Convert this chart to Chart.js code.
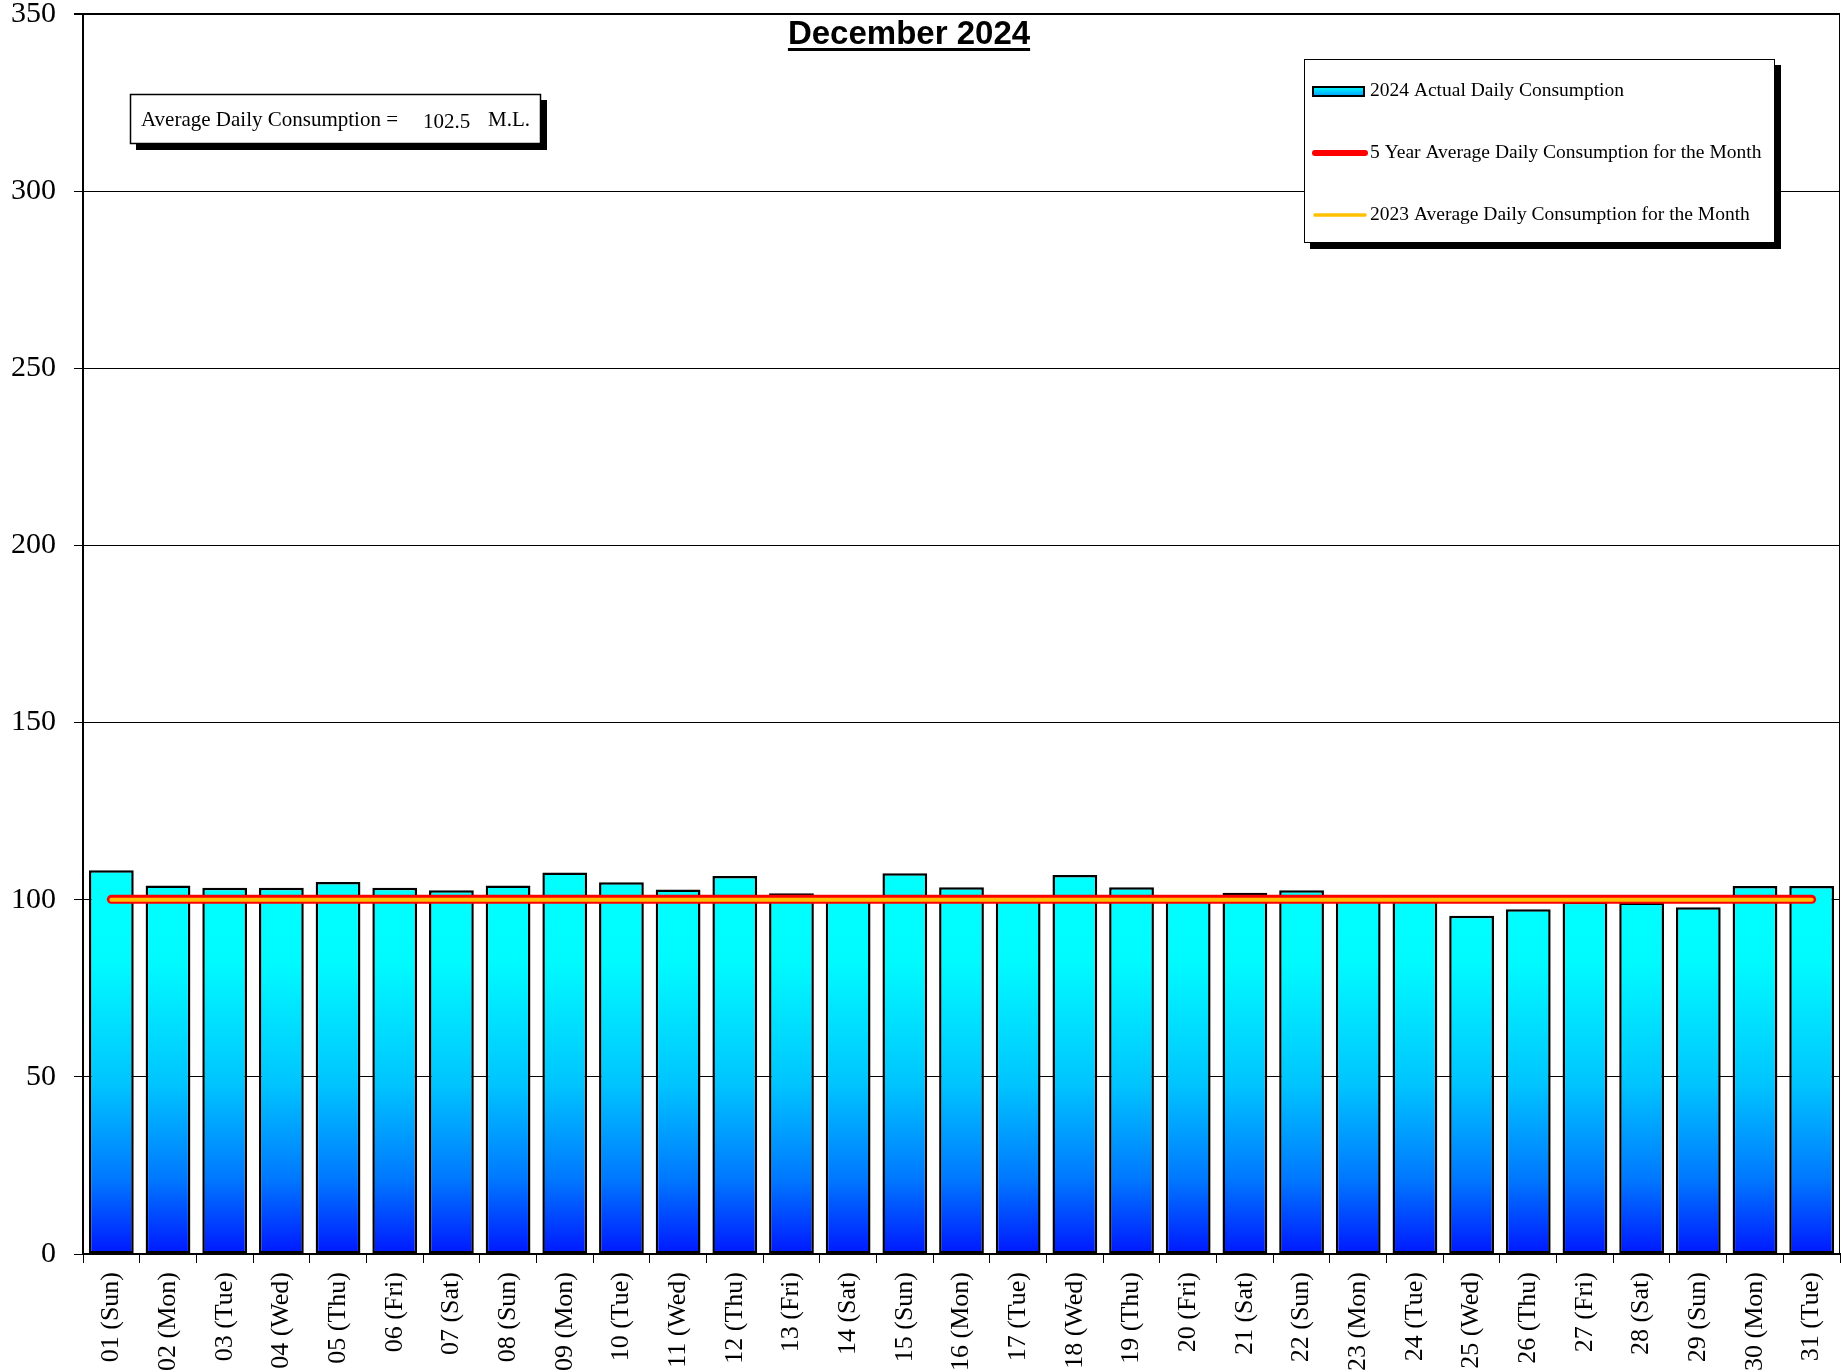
<!DOCTYPE html>
<html>
<head>
<meta charset="utf-8">
<script src="https://cdn.jsdelivr.net/npm/chart.js@4.4.1/dist/chart.umd.min.js"></script>
<style>
  html, body { margin: 0; padding: 0; background: #fff; }
  #wrap { width: 1841px; height: 1372px; }
</style>
</head>
<body>
<div id="wrap"><canvas id="dailyChart" width="1841" height="1372"></canvas></div>
<script>
/* Daily consumption data, December 2024 */
const dayLabels = [
  '01 (Sun)', '02 (Mon)', '03 (Tue)', '04 (Wed)', '05 (Thu)', '06 (Fri)', '07 (Sat)',
  '08 (Sun)', '09 (Mon)', '10 (Tue)', '11 (Wed)', '12 (Thu)', '13 (Fri)', '14 (Sat)',
  '15 (Sun)', '16 (Mon)', '17 (Tue)', '18 (Wed)', '19 (Thu)', '20 (Fri)', '21 (Sat)',
  '22 (Sun)', '23 (Mon)', '24 (Tue)', '25 (Wed)', '26 (Thu)', '27 (Fri)', '28 (Sat)',
  '29 (Sun)', '30 (Mon)', '31 (Tue)'
];
const actual2024 = [
  108.3, 104.0, 103.4, 103.4, 105.0, 103.4, 102.7,
  104.0, 107.7, 104.9, 102.9, 106.7, 101.8, 100.2,
  107.5, 103.5, 100.2, 107.0, 103.5, 100.2, 102.0,
  102.7, 100.2, 100.2, 95.5, 97.3, 99.4, 99.2,
  97.9, 103.9, 103.9
];
const fiveYearAvg = [
  100.1, 100.1, 100.1, 100.1, 100.1, 100.1, 100.1,
  100.1, 100.1, 100.1, 100.1, 100.1, 100.1, 100.1,
  100.1, 100.1, 100.1, 100.1, 100.1, 100.1, 100.1,
  100.1, 100.1, 100.1, 100.1, 100.1, 100.1, 100.1,
  100.1, 100.1, 100.1
];
const avg2023 = [
  100.0, 100.0, 100.0, 100.0, 100.0, 100.0, 100.0,
  100.0, 100.0, 100.0, 100.0, 100.0, 100.0, 100.0,
  100.0, 100.0, 100.0, 100.0, 100.0, 100.0, 100.0,
  100.0, 100.0, 100.0, 100.0, 100.0, 100.0, 100.0,
  100.0, 100.0, 100.0
];
const yTicks = [0, 50, 100, 150, 200, 250, 300, 350];
const monthAverage = '102.5';
const titleText = 'December 2024';

const serif = "'Liberation Serif', 'Times New Roman', serif";

function barFill(context) {
  const chart = context.chart;
  const area = chart.chartArea;
  if (!area) return '#00ffff';
  const y = chart.scales.y;
  const g = chart.ctx.createLinearGradient(0, y.getPixelForValue(106), 0, y.getPixelForValue(0));
  g.addColorStop(0, '#00ffff');
  g.addColorStop(0.22, '#00fbff');
  g.addColorStop(0.55, '#00c4ff');
  g.addColorStop(0.8, '#0078ff');
  g.addColorStop(1, '#0018ff');
  return g;
}

/* frame, title, boxes */
const decorations = {
  id: 'decorations',
  afterDraw(chart) {
    const ctx = chart.ctx;
    const a = chart.chartArea;
    ctx.save();

    // right edge of the frame
    ctx.strokeStyle = '#000';
    ctx.lineWidth = 1;
    ctx.beginPath();
    ctx.moveTo(a.right - 0.5, a.top);
    ctx.lineTo(a.right - 0.5, a.bottom);
    ctx.stroke();

    // title
    ctx.fillStyle = '#000';
    ctx.font = "bold 33px 'Liberation Sans', Arial, sans-serif";
    ctx.textAlign = 'center';
    ctx.textBaseline = 'alphabetic';
    ctx.fillText(titleText, 909, 44);
    const tw = ctx.measureText(titleText).width;
    ctx.fillRect(909 - tw / 2, 48, tw, 3);

    // average box
    ctx.fillStyle = '#000';
    ctx.fillRect(136, 100, 411, 50);
    ctx.fillStyle = '#fff';
    ctx.fillRect(130, 94, 411, 50);
    ctx.lineWidth = 1.5;
    ctx.strokeRect(130.5, 94.5, 410, 49);
    ctx.fillStyle = '#000';
    ctx.font = '21px ' + serif;
    ctx.textAlign = 'left';
    ctx.textBaseline = 'middle';
    ctx.fillText('Average Daily Consumption =', 141, 120);
    ctx.fillText(monthAverage, 423, 122);
    ctx.fillText('M.L.', 488, 120);

    // legend box
    const lx = 1304, ly = 59, lw = 471, lh = 184;
    ctx.fillStyle = '#000';
    ctx.fillRect(lx + 6, ly + 6, lw, lh);
    ctx.fillStyle = '#fff';
    ctx.fillRect(lx, ly, lw, lh);
    ctx.strokeStyle = '#000';
    ctx.lineWidth = 1;
    ctx.strokeRect(lx + 0.5, ly + 0.5, lw - 1, lh - 1);

    const rows = [91, 153, 215];
    const ds = chart.data.datasets;
    ctx.font = '19.5px ' + serif;
    ctx.textBaseline = 'middle';
    ds.forEach((d, i) => {
      const ry = rows[i];
      if (d.type === 'line') {
        ctx.strokeStyle = d.borderColor;
        ctx.lineWidth = i === 1 ? 6 : 3.5;
        ctx.lineCap = 'round';
        ctx.beginPath();
        ctx.moveTo(1315, ry);
        ctx.lineTo(1365, ry);
        ctx.stroke();
      } else {
        const g = ctx.createLinearGradient(0, ry - 4, 0, ry + 4);
        g.addColorStop(0, '#00ffff');
        g.addColorStop(1, '#00a8ff');
        ctx.fillStyle = g;
        ctx.fillRect(1313, ry - 4, 51, 9);
        ctx.strokeStyle = '#000';
        ctx.lineWidth = 2;
        ctx.strokeRect(1313, ry - 4, 51, 9);
      }
      ctx.fillStyle = '#000';
      ctx.fillText(d.label, 1370, ry);
    });

    ctx.restore();
  }
};

new Chart(document.getElementById('dailyChart'), {
  data: {
    labels: dayLabels,
    datasets: [
      {
        type: 'bar',
        label: '2024 Actual Daily Consumption',
        data: actual2024,
        backgroundColor: barFill,
        borderColor: '#000',
        borderWidth: 2.5,
        borderSkipped: false,
        categoryPercentage: 1,
        barPercentage: 0.79,
        order: 3
      },
      {
        type: 'line',
        label: '5 Year Average Daily Consumption for the Month',
        data: fiveYearAvg,
        borderColor: '#ff0000',
        borderWidth: 9,
        borderCapStyle: 'round',
        pointRadius: 0,
        order: 2
      },
      {
        type: 'line',
        label: '2023 Average Daily Consumption for the Month',
        data: avg2023,
        borderColor: '#ffc000',
        borderWidth: 4,
        borderCapStyle: 'round',
        pointRadius: 0,
        order: 1
      }
    ]
  },
  options: {
    responsive: false,
    devicePixelRatio: 1,
    animation: false,
    layout: { padding: { top: 14, right: 1, left: 0, bottom: 0 } },
    plugins: {
      legend: { display: false },
      tooltip: { enabled: false }
    },
    scales: {
      x: {
        offset: true,
        afterFit: s => { s.height = 118; s.paddingLeft = 0; s.paddingRight = 0; },
        grid: { offset: true, drawOnChartArea: false, drawTicks: true, tickLength: 9, color: '#000', lineWidth: 1 },
        border: { display: true, color: '#000', width: 2 },
        ticks: {
          autoSkip: false, maxRotation: 90, minRotation: 90, padding: 9,
          color: '#000', font: { family: serif, size: 26 }
        }
      },
      y: {
        min: 0,
        max: 350,
        afterFit: s => { s.width = 83; s.paddingTop = 0; s.paddingBottom = 0; },
        afterBuildTicks: s => { s.ticks = yTicks.map(v => ({ value: v })); },
        grid: {
          color: '#000',
          lineWidth: c => (c.tick && c.tick.value === 350 ? 2 : 1),
          tickLength: 9
        },
        border: { display: true, color: '#000', width: 2 },
        ticks: {
          padding: 18, color: '#000',
          font: { family: serif, size: 30 }
        }
      }
    }
  },
  plugins: [decorations]
});
</script>
</body>
</html>
